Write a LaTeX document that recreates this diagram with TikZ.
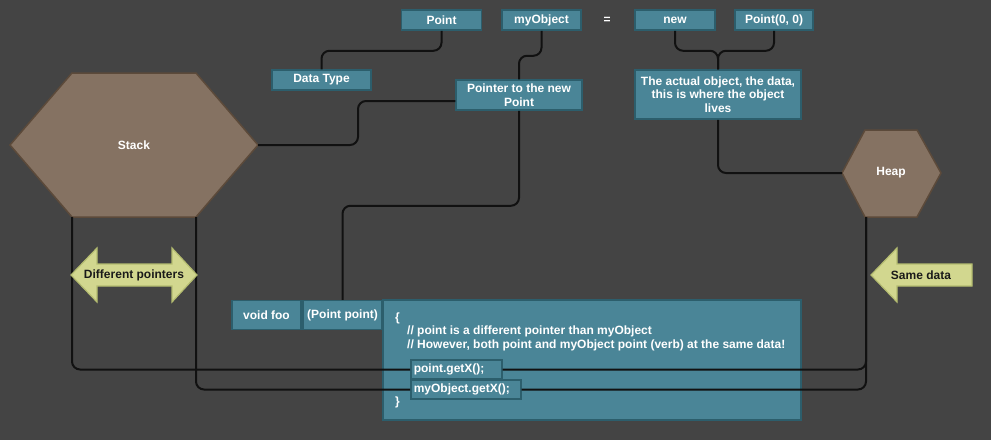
\documentclass[tikz,border=0pt]{standalone}
\usepackage{fontspec}
\setmainfont{Liberation Sans}
\usetikzlibrary{calc}
\definecolor{bg}{HTML}{444444}
\definecolor{boxfill}{HTML}{4A8597}
\definecolor{boxline}{HTML}{2C5E6C}
\definecolor{hexfill}{HTML}{857262}
\definecolor{hexline}{HTML}{5C4A3A}
\definecolor{arrfill}{HTML}{D2D78F}
\definecolor{arrline}{HTML}{B4BC70}
\definecolor{wire}{HTML}{111111}
\definecolor{darktext}{HTML}{1A1A1A}
\begin{document}
\begin{tikzpicture}[x=1pt,y=-1pt,
  lbl/.style={font=\fontsize{12}{13.5}\selectfont\bfseries, inner sep=0pt},
  box/.style={lbl, draw=boxline, fill=boxfill, line width=1.5pt, text=white, align=center},
  codebox/.style={box, align=left, inner xsep=3pt, minimum height=19pt},
  wtext/.style={lbl, text=white},
  dtext/.style={lbl, text=darktext},
  hexa/.style={draw=hexline, fill=hexfill, line width=1.5pt},
  fatarrow/.style={draw=arrline, fill=arrfill, line width=1.2pt},
  conn/.style={draw=wire, line width=2pt, rounded corners=8pt}
]
\fill[bg] (0,0) rectangle (991,440);
\useasboundingbox (0,0) rectangle (991,440);

% top row
\node[box, minimum width=80pt, minimum height=20pt] (pointN) at (441.5,20) {Point};
\node[box, minimum width=79pt, minimum height=20pt] (myobj) at (541.5,20) {myObject};
\node[wtext] (eq) at (607,20) {=};
\node[box, minimum width=80pt, minimum height=20pt] (newN) at (675,20) {new};
\node[box, minimum width=78pt, minimum height=20pt] (pt00) at (774,20) {Point(0, 0)};

% explanation boxes
\node[box, minimum width=99pt, minimum height=20pt] (dtype) at (321.5,80) {Data Type};
\node[box, minimum width=126pt, minimum height=30pt] (ptr) at (519,95) {Pointer to the new\\Point};
\node[box, minimum width=166pt, minimum height=49pt] (actual) at (718,94.5) {The actual object, the data,\\this is where the object\\lives};

% hexagons
\coordinate (stW) at (10,145);
\coordinate (stNW) at (72,73);
\coordinate (stNE) at (196,73);
\coordinate (stE) at (258,145);
\coordinate (stSE) at (196,217);
\coordinate (stSW) at (72,217);
\draw[hexa] (stW) -- (stNW) -- (stNE) -- (stE) -- (stSE) -- (stSW) -- cycle;
\node[wtext] (stack) at (134,145) {Stack};

\coordinate (hpW) at (842,173);
\coordinate (hpNW) at (865,130);
\coordinate (hpNE) at (917,130);
\coordinate (hpE) at (941,173);
\coordinate (hpSE) at (917,217);
\coordinate (hpSW) at (866,217);
\draw[hexa] (hpW) -- (hpNW) -- (hpNE) -- (hpE) -- (hpSE) -- (865,217) -- cycle;
\node[wtext] (heap) at (891,173) {Heap};

% code
\node[box, minimum width=69pt, minimum height=29pt] (voidfoo) at (266.5,315) {void foo};
\node[box, minimum width=79pt, minimum height=29pt] (pp) at (342.5,315) {(Point point)};
\node[box, minimum width=418pt, minimum height=120pt] (code) at (592,360) {};
\node[wtext, anchor=west] (br1) at (395,318) {\{};
\node[wtext, anchor=west] (cm1) at (407,331.5) {// point is a different pointer than myObject};
\node[wtext, anchor=west] (cm2) at (407,345.5) {// However, both point and myObject point (verb) at the same data!};
\node[wtext, anchor=west] (br2) at (395,402) {\}};

% connectors
\draw[conn] (pointN.south) -- ++(0,20) -| (dtype.north);
\draw[conn] (myobj.south) -- ++(0,25) -| (ptr.north);
\draw[conn] ([yshift=-6pt]ptr.west) -| (358,145) -- (stE);
\draw[conn] (ptr.south) -- ++(0,95) -| (pp.north);
\draw[conn] (newN.south) -- ++(0,20) -| (actual.north);
\draw[conn] (pt00.south) -- ++(0,20) -| (actual.north);
\draw[conn] (actual.south) |- (hpW);

\node[codebox, text width=85pt, anchor=west] (gx1) at (410,369.5) {point.getX();};
\node[codebox, text width=104pt, anchor=west] (gx2) at (410,389.5) {myObject.getX();};

\draw[conn] (stSW) |- (gx1.west);
\draw[conn] (gx1.east) -| (hpSW);
\draw[conn] (stSE) |- (gx2.west);
\draw[conn] (gx2.east) -| (hpSW);

% fat arrows
\draw[fatarrow] (71,275) -- (97,248) -- (97,264) -- (172,264) -- (172,248) -- (197,275)
  -- (172,302) -- (172,286) -- (97,286) -- (97,302) -- cycle;
\node[dtext] (diffp) at (134,275) {Different pointers};
\draw[fatarrow] (871,275) -- (897,248) -- (897,264) -- (972,264) -- (972,286)
  -- (897,286) -- (897,302) -- cycle;
\node[dtext] (same) at (921,275) {Same data};
\end{tikzpicture}
\end{document}
